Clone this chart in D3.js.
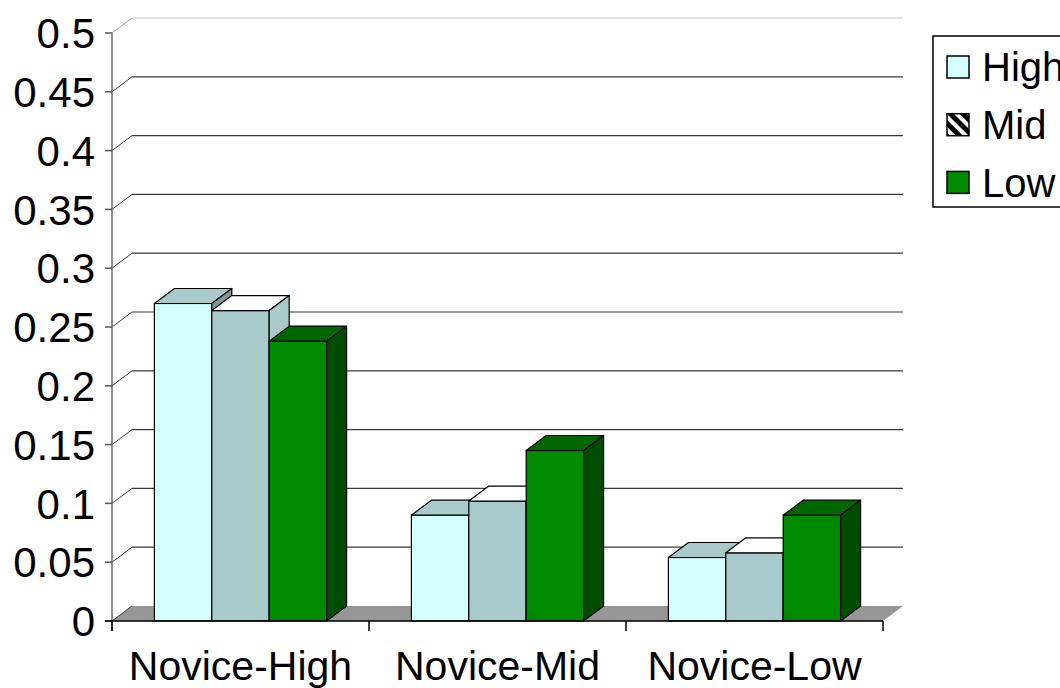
<!DOCTYPE html>
<html>
<head>
<meta charset="utf-8">
<script src="https://cdn.jsdelivr.net/npm/d3@7"></script>
<style>
  body { margin: 0; background: #fff; }
  svg { display: block; font-family: "Liberation Sans", Arial, sans-serif; }
</style>
</head>
<body>
<svg id="chart" width="1060" height="688"></svg>
<script>
// chart data
const categories = ["Novice-High", "Novice-Mid", "Novice-Low"];
const seriesNames = ["High", "Mid", "Low"];
const highValues = [0.27, 0.09, 0.054];
const midValues = [0.264, 0.102, 0.058];
const lowValues = [0.238, 0.145, 0.09];
const yTicks = [0, 0.05, 0.1, 0.15, 0.2, 0.25, 0.3, 0.35, 0.4, 0.45, 0.5];

const seriesValues = [highValues, midValues, lowValues];

// face colours for each series: front, top, side
const faceColors = {
  High: { front: "#d4ffff", top: "#a9caca", side: "#7f9a9a" },
  Mid: { front: "#a9caca", top: "#ffffff", side: "#a9caca" },
  Low: { front: "#008a00", top: "#006600", side: "#004c00" }
};

const svg = d3.select("#chart");

// plot frame (front plane) and 3d depth offset
const plotLeft = 112, plotRight = 883, plotTop = 33, plotBottom = 621;
const dx = 20, dy = -15;

const y = d3.scaleLinear().domain([0, 0.5]).range([plotBottom, plotTop]);
const x0 = d3.scaleBand().domain(categories).range([plotLeft, plotRight])
  .paddingInner(0.33).paddingOuter(0.165);
const x1 = d3.scaleBand().domain(seriesNames).range([0, x0.bandwidth()]);

// floor
svg.append("polygon")
  .attr("points", [[plotLeft, plotBottom], [plotRight, plotBottom], [plotRight + dx, plotBottom + dy], [plotLeft + dx, plotBottom + dy]].join(" "))
  .attr("fill", "#969696");

// back wall gridlines and the little diagonals to the front ticks
const grid = svg.append("g");
yTicks.forEach((t) => {
  const yy = y(t);
  if (t > 0) {
    grid.append("line")
      .attr("x1", plotLeft + dx).attr("x2", plotRight + dx)
      .attr("y1", yy + dy).attr("y2", yy + dy)
      .attr("stroke", t === 0.5 ? "#c8c8c8" : "#3a3a3a")
      .attr("stroke-width", 1.2);
  }
  grid.append("line")
    .attr("x1", plotLeft).attr("y1", yy)
    .attr("x2", plotLeft + dx).attr("y2", yy + dy)
    .attr("stroke", t === 0.5 ? "#a0a0a0" : "#3a3a3a")
    .attr("stroke-width", 1);
});

// value axis
const yAxis = svg.append("g");
yAxis.append("line")
  .attr("x1", plotLeft).attr("x2", plotLeft)
  .attr("y1", plotTop).attr("y2", plotBottom + 10)
  .attr("stroke", "#6a6a6a").attr("stroke-width", 1.5);
yAxis.selectAll("line.tick")
  .data(yTicks)
  .enter()
  .append("line")
  .attr("class", "tick")
  .attr("x1", plotLeft - 7).attr("x2", plotLeft)
  .attr("y1", d => y(d)).attr("y2", d => y(d))
  .attr("stroke", "#555").attr("stroke-width", 1.5);
yAxis.selectAll("text")
  .data(yTicks)
  .enter()
  .append("text")
  .attr("x", 95)
  .attr("y", d => y(d))
  .attr("dy", "0.36em")
  .attr("text-anchor", "end")
  .attr("font-size", 42)
  .text(d => String(d));

// bars, drawn left to right so later fronts hide earlier side faces
const bars = svg.append("g");
categories.forEach((cat, ci) => {
  seriesNames.forEach((name, si) => {
    const v = seriesValues[si][ci];
    const bx = x0(cat) + x1(name);
    const bw = x1.bandwidth();
    const by = y(v);
    const c = faceColors[name];

    bars.append("rect")
      .attr("x", bx).attr("y", by)
      .attr("width", bw).attr("height", y(0) - by)
      .attr("fill", c.front)
      .attr("stroke", "#000").attr("stroke-width", 1.2);

    bars.append("polygon")
      .attr("points", [[bx, by], [bx + bw, by], [bx + bw + dx, by + dy], [bx + dx, by + dy]].join(" "))
      .attr("fill", c.top)
      .attr("stroke", "#000").attr("stroke-width", 1.2).attr("stroke-linejoin", "round");

    bars.append("polygon")
      .attr("points", [[bx + bw, by], [bx + bw + dx, by + dy], [bx + bw + dx, y(0) + dy], [bx + bw, y(0)]].join(" "))
      .attr("fill", c.side)
      .attr("stroke", "#000").attr("stroke-width", 1.2).attr("stroke-linejoin", "round");
  });
});

// category axis
const xAxis = svg.append("g");
xAxis.append("line")
  .attr("x1", plotLeft - 7).attr("x2", plotRight)
  .attr("y1", plotBottom).attr("y2", plotBottom)
  .attr("stroke", "#000").attr("stroke-width", 1.5);
const step = x0.step();
const boundaries = [plotLeft].concat(categories.map((c, i) => plotLeft + step * (i + 1)));
xAxis.selectAll("line.tick")
  .data(boundaries)
  .enter()
  .append("line")
  .attr("class", "tick")
  .attr("x1", d => d).attr("x2", d => d)
  .attr("y1", plotBottom).attr("y2", plotBottom + 10)
  .attr("stroke", "#000").attr("stroke-width", 1.5);
xAxis.selectAll("text")
  .data(categories)
  .enter()
  .append("text")
  .attr("x", d => x0(d) + x0.bandwidth() / 2)
  .attr("y", 680)
  .attr("text-anchor", "middle")
  .attr("font-size", 41)
  .text(d => d);

// legend, with the hatched swatch for Mid
const defs = svg.append("defs");
const hatch = defs.append("pattern")
  .attr("id", "hatch")
  .attr("patternUnits", "userSpaceOnUse")
  .attr("width", 9).attr("height", 9)
  .attr("patternTransform", "rotate(-45)");
hatch.append("rect").attr("width", 9).attr("height", 9).attr("fill", "#000");
hatch.append("rect").attr("width", 4).attr("height", 9).attr("fill", "#fff");

const legend = svg.append("g");
legend.append("rect")
  .attr("x", 933).attr("y", 36)
  .attr("width", 140).attr("height", 171)
  .attr("fill", "#fff")
  .attr("stroke", "#000").attr("stroke-width", 1.5);

const legendFill = { High: faceColors.High.front, Mid: "url(#hatch)", Low: faceColors.Low.front };
seriesNames.forEach((name, i) => {
  const cy = 67 + i * 57.7;
  legend.append("rect")
    .attr("x", 947).attr("y", cy - 11)
    .attr("width", 22).attr("height", 22)
    .attr("fill", legendFill[name])
    .attr("stroke", "#000").attr("stroke-width", 1.5);
  legend.append("text")
    .attr("x", 982).attr("y", cy)
    .attr("dy", "0.36em")
    .attr("font-size", 40)
    .text(name);
});
</script>
</body>
</html>
